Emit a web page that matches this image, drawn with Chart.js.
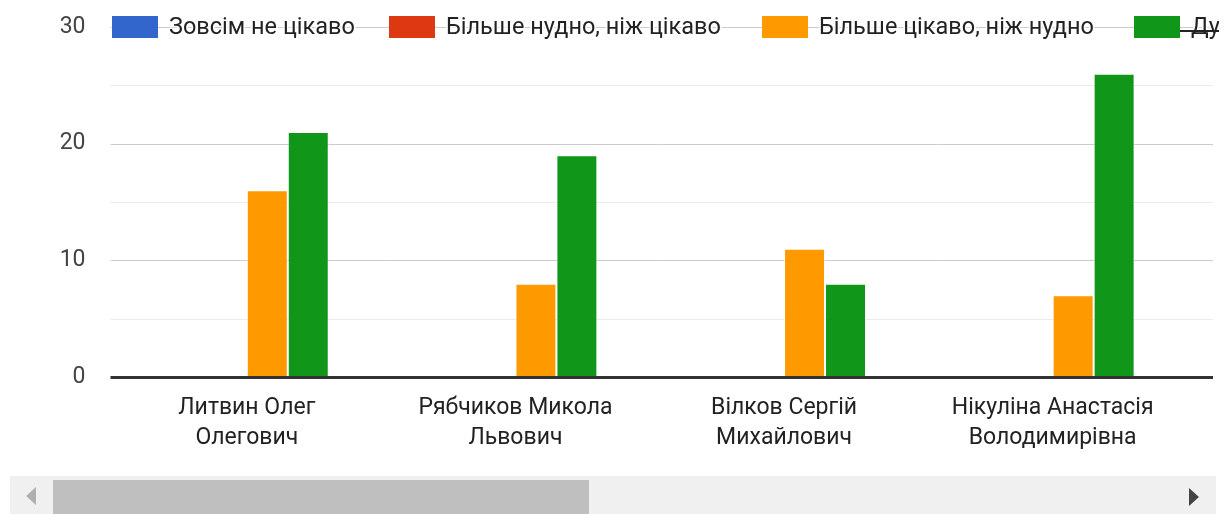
<!DOCTYPE html>
<html>
<head>
<meta charset="utf-8">
<script src="https://cdn.jsdelivr.net/npm/chart.js@4.4.1/dist/chart.umd.min.js"></script>
<style>
  html, body { margin: 0; padding: 0; background: #fff; }
  #wrap { position: relative; width: 1231px; height: 514px; overflow: hidden; }
  #box { position: absolute; left: 0; top: 0; width: 1231px; height: 476px; }
  #track { position: absolute; left: 10px; top: 476px; width: 1206px; height: 38px; background: #f0f0f0; }
  #thumb { position: absolute; left: 43px; top: 4px; width: 536px; height: 34px; background: #bfbfbf; }
  #larr { position: absolute; left: 16px; top: 11px; width: 0; height: 0;
          border-top: 9px solid transparent; border-bottom: 9px solid transparent; border-right: 10px solid #b0b0b0; }
  #rarr { position: absolute; left: 1179px; top: 12px; width: 0; height: 0;
          border-top: 9px solid transparent; border-bottom: 9px solid transparent; border-left: 10px solid #444; }
</style>
</head>
<body>
<div id="wrap">
  <div id="box"><canvas id="c"></canvas></div>
  <div id="track"><div id="larr"></div><div id="thumb"></div><div id="rarr"></div></div>
</div>
<script>
// ---- data ----
const categories = [
  ['Литвин Олег', 'Олегович'],
  ['Рябчиков Микола', 'Львович'],
  ['Вілков Сергій', 'Михайлович'],
  ['Нікуліна Анастасія', 'Володимирівна']
];
const seriesNames = ['Зовсім не цікаво', 'Більше нудно, ніж цікаво', 'Більше цікаво, ніж нудно', 'Дуже цікаво'];
const notInteresting   = [0, 0, 0, 0];
const moreBoring       = [0, 0, 0, 0];
const moreInteresting  = [16, 8, 11, 7];
const veryInteresting  = [21, 19, 8, 26];
const yTicks = [0, 10, 20, 30];
const seriesColors = ['#3366cc', '#dc3912', '#ff9900', '#109618'];

const FONT = 'Roboto, Arial, sans-serif';
const seriesValues = [notInteresting, moreBoring, moreInteresting, veryInteresting];
// legend item left edges (layout only)
const legendX = [112, 389, 762, 1134];

const gridPlugin = {
  id: 'gridExt',
  beforeDatasetsDraw(chart) {
    const { ctx, chartArea, scales } = chart;
    const y = scales.y;
    const right = 1213;
    ctx.save();
    for (let v = 5; v <= 30; v += 5) {
      const py = Math.round(y.getPixelForValue(v)) + 0.5;
      ctx.strokeStyle = (v % 10 === 0) ? '#cccccc' : '#ebebeb';
      ctx.lineWidth = 1;
      ctx.beginPath();
      ctx.moveTo(chartArea.left - 2, py);
      ctx.lineTo(right, py);
      ctx.stroke();
    }
    ctx.restore();
  },
  afterDatasetsDraw(chart) {
    const { ctx, chartArea, scales } = chart;
    const py = scales.y.getPixelForValue(0);
    ctx.save();
    ctx.fillStyle = '#333333';
    ctx.fillRect(chartArea.left - 2, py - 1, 1213 - chartArea.left + 2, 3);
    ctx.restore();
  },
  afterDraw(chart) {
    const { ctx, scales } = chart;
    const cy = Math.round(scales.y.getPixelForValue(30));
    ctx.save();
    ctx.beginPath();
    ctx.rect(0, 0, 1219, 60);
    ctx.clip();
    ctx.font = '23.5px ' + FONT;
    ctx.textBaseline = 'middle';
    chart.data.datasets.forEach((ds, i) => {
      const bx = legendX[i];
      ctx.fillStyle = ds.backgroundColor;
      ctx.fillRect(bx, cy - 11, 46, 22);
      const tx = bx + 57;
      const label = ds.label;
      ctx.lineWidth = 3;
      ctx.strokeStyle = '#ffffff';
      ctx.lineJoin = 'round';
      ctx.strokeText(label, tx, cy + 1);
      ctx.fillStyle = '#222222';
      ctx.fillText(label, tx, cy + 1);
      if (i === chart.data.datasets.length - 1) {
        ctx.fillStyle = '#222222';
        ctx.fillRect(bx + 46, cy + 3, 40, 2);
      }
    });
    ctx.restore();
  }
};

new Chart(document.getElementById('c'), {
  type: 'bar',
  data: {
    labels: categories,
    datasets: seriesNames.map((name, i) => ({
      label: name,
      data: seriesValues[i],
      backgroundColor: seriesColors[i],
      borderColor: 'rgba(255,255,255,0.6)',
      borderWidth: (c) => (c.raw ? 1 : 0),
      categoryPercentage: 0.61,
      barPercentage: 1.0
    }))
  },
  options: {
    responsive: true,
    maintainAspectRatio: false,
    animation: false,
    layout: { padding: { top: 27, right: 44, left: 0, bottom: 0 } },
    plugins: { legend: { display: false }, tooltip: { enabled: false } },
    scales: {
      x: {
        grid: { display: false, drawTicks: false },
        border: { display: false },
        ticks: {
          color: '#222222',
          font: { family: FONT, size: 23, lineHeight: 1.3 },
          maxRotation: 0, minRotation: 0, autoSkip: false, padding: 16
        },
        afterFit(s) { s.height = 99; }
      },
      y: {
        min: 0, max: 30,
        afterBuildTicks(s) { s.ticks = yTicks.map(v => ({ value: v })); },
        grid: { display: false, drawTicks: false },
        border: { display: false },
        ticks: {
          color: '#444444',
          font: { family: FONT, size: 23 },
          padding: 27
        },
        afterFit(s) { s.width = 112.5; s.paddingTop = 0; s.paddingBottom = 0; }
      }
    }
  },
  plugins: [gridPlugin]
});
</script>
</body>
</html>
